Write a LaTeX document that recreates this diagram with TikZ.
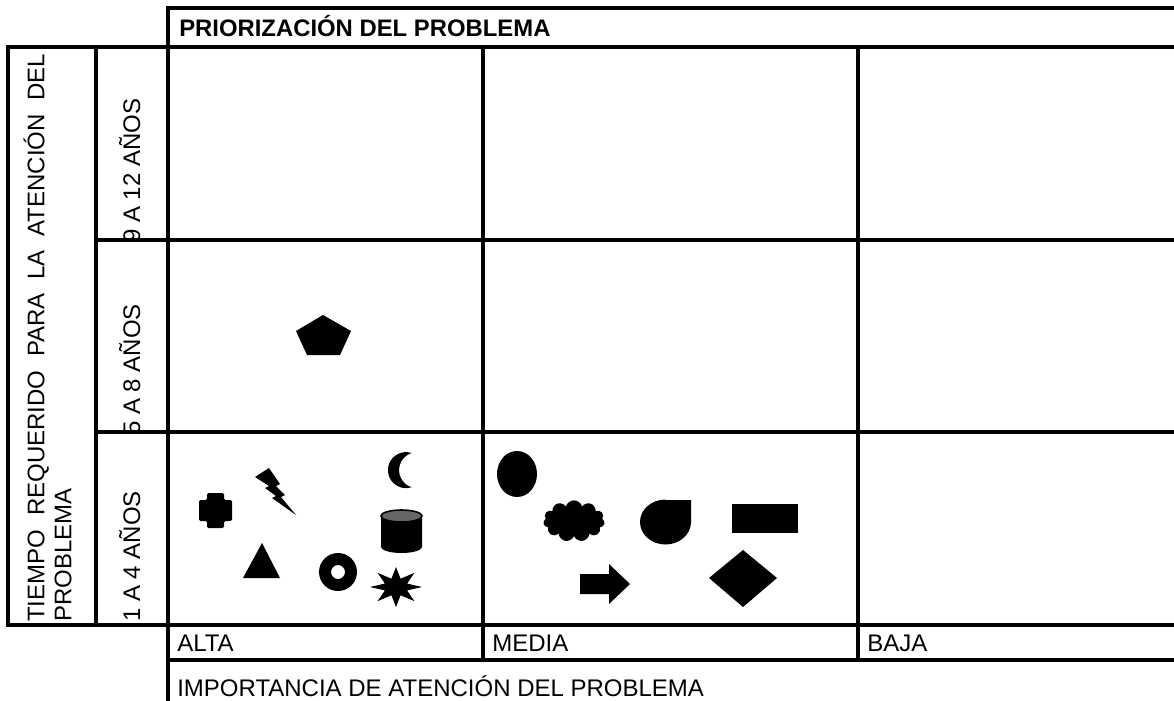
\documentclass[tikz,border=0pt]{standalone}
\usepackage{fontspec}
\setmainfont{Liberation Sans}
\usetikzlibrary{shapes.symbols}

\begin{document}
\begin{tikzpicture}[x=0.75pt,y=-0.75pt,
  tabla/.style={line width=2.5pt, line cap=rect},
  texto/.style={inner sep=0pt, font=\fontsize{18}{20.25}\selectfont},
  vertical/.style={texto, rotate=90},
  figura/.style={fill=black}]
\useasboundingbox (0,0) rectangle (1174,700);
% cuadricula
\draw[tabla] (168,8) -- (1174,8);
\draw[tabla] (8,47) -- (1174,47);
\foreach \y in {240,432} \draw[tabla] (96,\y) -- (1174,\y);
\draw[tabla] (8,625) -- (1174,625);
\draw[tabla] (168,660) -- (1174,660);
\draw[tabla] (8,47) -- (8,625);
\draw[tabla] (96,47) -- (96,625);
\draw[tabla] (168,8) -- (168,700);
\foreach \x in {483,858} \draw[tabla] (\x,47) -- (\x,660);
% textos
\node[texto, anchor=base west, font=\fontsize{17.9}{20.25}\selectfont\bfseries] (titulo) at (179,36) {PRIORIZACIÓN DEL PROBLEMA};
\node[vertical, anchor=south west, text width=426pt, align=justify] (ejeY) at (72,622)
  {TIEMPO REQUERIDO PARA LA ATENCIÓN DEL PROBLEMA};
\node[vertical, anchor=base west] (anos9) at (140,243) {9 A 12 AÑOS};
\node[vertical, anchor=base west] (anos5) at (140,435) {5 A 8 AÑOS};
\node[vertical, anchor=base west] (anos1) at (140,622) {1 A 4 AÑOS};
\node[texto, anchor=base west] (alta) at (177,651) {ALTA};
\node[texto, anchor=base west] (media) at (492,651) {MEDIA};
\node[texto, anchor=base west] (baja) at (867,651) {BAJA};
\node[texto, anchor=base west] (ejeX) at (177,696) {IMPORTANCIA DE ATENCIÓN DEL PROBLEMA};
% alta, 5 a 8 anos
\fill[figura] (323,315) -- (351,331) -- (340,355) -- (307,355) -- (296,331) -- cycle; % pentagono
% alta, 1 a 4 anos
\fill[figura, rounded corners=1pt] (207,493) -- (224,493) -- (224,500) -- (232,500) -- (232,521) -- (224,521)
  -- (224,528) -- (207,528) -- (207,521) -- (199,521) -- (199,500) -- (207,500) -- cycle; % cruz
\fill[figura] (255,477) -- (269,468) -- (280,484) -- (276,486) -- (285,495) -- (281,497)
  -- (296,515) -- (272,498) -- (276,496) -- (265,488) -- (269,486) -- cycle; % rayo
\fill[figura] (411.5,453) arc[start angle=-72, end angle=-288, radius=18]
  arc[start angle=108, end angle=252, radius=18] -- cycle; % luna
\fill[figura] (381,516) -- (381,547) arc[start angle=180, end angle=0, x radius=20.5, y radius=6]
  -- (422,516) -- cycle; % cilindro
\filldraw[fill=black!60, draw=black, line width=1.2pt] (401.5,516) ellipse[x radius=20.5, y radius=6];
\fill[figura] (262,543) -- (280,578) -- (243,578) -- cycle; % triangulo
\fill[figura, even odd rule] (338,572) circle[radius=19] circle[radius=7]; % anillo
\fill[figura] plot[samples at={0,...,15}, variable=\k]
  ({396+(mod(\k,2)==0 ? 26 : 12)*cos(\k*22.5)}, {587+(mod(\k,2)==0 ? 20 : 9)*sin(\k*22.5)}) -- cycle; % estrella
% media, 1 a 4 anos
\fill[figura] (517,474) ellipse[x radius=20, y radius=23]; % elipse
\node[cloud, cloud puffs=11, aspect=1.5, figura, minimum width=46pt, minimum height=31pt, inner sep=0pt] (nube) at (574,521) {};
\fill[figura] (665,500) -- (691,500) -- (691,522) arc[start angle=0, end angle=270, x radius=25.5, y radius=22.5]
  -- cycle; % gota
\fill[figura] (732,504) rectangle (798,533); % rectangulo
\fill[figura] (580,574) -- (609,574) -- (609,564) -- (630,584) -- (609,604) -- (609,594) -- (580,594) -- cycle; % flecha
\fill[figura] (743,550) -- (777,578) -- (743,607) -- (709,578) -- cycle; % rombo
\end{tikzpicture}
\end{document}
